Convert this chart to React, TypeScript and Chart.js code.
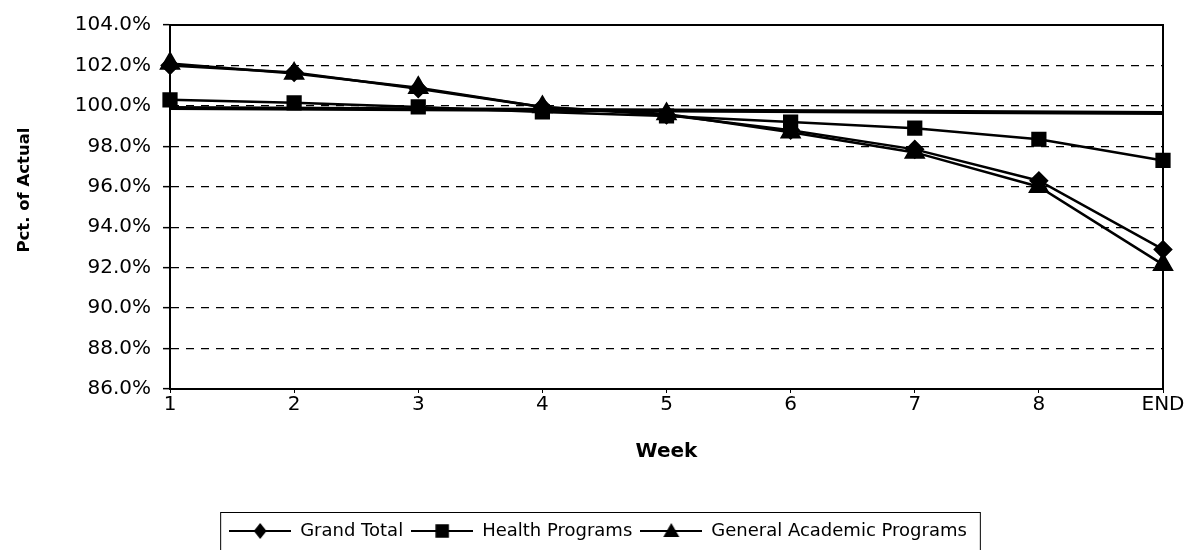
import React, { useEffect, useRef } from "react";
import { Chart, registerables } from "chart.js";

Chart.register(...registerables);

const weeks = ["1", "2", "3", "4", "5", "6", "7", "8", "END"];
const grandTotal = [102.0, 101.65, 100.85, 99.95, 99.55, 98.8, 97.85, 96.3, 92.9];
const healthPrograms = [100.3, 100.15, 99.95, 99.7, 99.5, 99.2, 98.9, 98.35, 97.3];
const generalAcademic = [102.1, 101.6, 100.9, 99.95, 99.6, 98.7, 97.7, 96.0, 92.15];
const baseLine = [99.9, null, null, null, null, null, null, null, 99.65];
const yTicks = [86, 88, 90, 92, 94, 96, 98, 100, 102, 104];
const yTitle = "Pct. of Actual";
const xTitle = "Week";

const FONT = "'DejaVu Sans', 'Liberation Sans', Arial, sans-serif";

function makeLegendIcon(style: string, radius: number): HTMLCanvasElement {
  const c = document.createElement("canvas");
  c.width = 62;
  c.height = 22;
  const ctx = c.getContext("2d")!;
  ctx.strokeStyle = "#000";
  ctx.fillStyle = "#000";
  ctx.lineWidth = 2;
  ctx.beginPath();
  ctx.moveTo(0, 11);
  ctx.lineTo(62, 11);
  ctx.stroke();
  const cx = 31, cy = 11;
  ctx.beginPath();
  if (style === "diamond") {
    ctx.moveTo(cx, cy - radius);
    ctx.lineTo(cx + radius * 0.8, cy);
    ctx.lineTo(cx, cy + radius);
    ctx.lineTo(cx - radius * 0.8, cy);
  } else if (style === "square") {
    const s = radius * 0.75;
    ctx.rect(cx - s, cy - s, 2 * s, 2 * s);
  } else {
    ctx.moveTo(cx, cy - radius);
    ctx.lineTo(cx + radius, cy + radius * 0.75);
    ctx.lineTo(cx - radius, cy + radius * 0.75);
  }
  ctx.closePath();
  ctx.fill();
  return c;
}

const frame = {
  id: "frame",
  beforeDatasetsDraw(chart: any) {
    const { ctx, chartArea } = chart;
    ctx.save();
    ctx.strokeStyle = "#000";
    ctx.lineWidth = 2;
    ctx.beginPath();
    ctx.moveTo(chartArea.left, chartArea.top);
    ctx.lineTo(chartArea.right, chartArea.top);
    ctx.lineTo(chartArea.right, chartArea.bottom);
    ctx.stroke();
    ctx.restore();
  },
  afterDraw(chart: any) {
    const { ctx } = chart;
    ctx.save();
    ctx.translate(25, 190);
    ctx.rotate(-Math.PI / 2);
    ctx.fillStyle = "#000";
    ctx.font = `bold 16.5px ${FONT}`;
    ctx.textAlign = "center";
    ctx.textBaseline = "middle";
    ctx.fillText(yTitle, 0, 0);
    ctx.restore();

    const lg = chart.legend;
    if (!lg || !lg.legendHitBoxes || !lg.legendHitBoxes.length) return;
    const boxes = lg.legendHitBoxes;
    let l = Infinity, r = -Infinity, t = Infinity, b = -Infinity;
    for (const h of boxes) {
      l = Math.min(l, h.left);
      r = Math.max(r, h.left + h.width);
      t = Math.min(t, h.top);
      b = Math.max(b, h.top + h.height);
    }
    ctx.save();
    ctx.strokeStyle = "#000";
    ctx.lineWidth = 1;
    ctx.strokeRect(l - 8.5, t - 9.5, r - l + 22, b - t + 40);
    ctx.restore();
  },
};

export default function App() {
  const ref = useRef<HTMLCanvasElement | null>(null);

  useEffect(() => {
    document.body.style.margin = "0";
    const icons = [
      makeLegendIcon("diamond", 8),
      makeLegendIcon("square", 9),
      makeLegendIcon("triangle", 8),
    ];
    const chart = new Chart(ref.current!, {
      type: "line",
      data: {
        labels: weeks,
        datasets: [
          {
            label: "Grand Total",
            data: grandTotal,
            borderColor: "#000",
            backgroundColor: "#000",
            borderWidth: 2.5,
            pointStyle: "rectRot",
            pointRadius: 8,
            pointBackgroundColor: "#000",
            pointBorderColor: "#000",
          },
          {
            label: "Health Programs",
            data: healthPrograms,
            borderColor: "#000",
            backgroundColor: "#000",
            borderWidth: 2.5,
            pointStyle: "rect",
            pointRadius: 9,
            pointBackgroundColor: "#000",
            pointBorderColor: "#000",
          },
          {
            label: "General Academic Programs",
            data: generalAcademic,
            borderColor: "#000",
            backgroundColor: "#000",
            borderWidth: 2.5,
            pointStyle: "triangle",
            pointRadius: 10,
            pointBackgroundColor: "#000",
            pointBorderColor: "#000",
          },
          {
            label: "base",
            data: baseLine,
            borderColor: "#000",
            borderWidth: 4,
            pointRadius: 0,
            spanGaps: true,
          },
        ],
      },
      options: {
        responsive: false,
        animation: false,
        layout: { padding: { left: 0, right: 0, top: 25, bottom: 0 } },
        plugins: {
          tooltip: { enabled: false },
          legend: {
            position: "bottom",
            labels: {
              color: "#000",
              font: { family: FONT, size: 18 },
              usePointStyle: true,
              pointStyleWidth: 62,
              padding: 8,
              filter: (item: any) => item.datasetIndex < 3,
              generateLabels: (chart: any) => {
                const items = Chart.defaults.plugins.legend.labels.generateLabels(chart);
                return items.map((it: any) => ({
                  ...it,
                  pointStyle: icons[it.datasetIndex] || it.pointStyle,
                }));
              },
            },
          },
        },
        scales: {
          x: {
            type: "category",
            offset: false,
            grid: {
              drawOnChartArea: false,
              drawTicks: true,
              tickLength: 4,
              color: "#000",
            },
            border: { display: true, color: "#000", width: 2 },
            ticks: {
              color: "#000",
              font: { family: FONT, size: 20 },
              padding: 0,
              maxRotation: 0,
              autoSkip: false,
            },
            title: {
              display: true,
              text: xTitle,
              color: "#000",
              font: { family: FONT, size: 20, weight: "bold" },
              padding: { top: 0, bottom: 50 },
            },
            afterFit: (s: any) => {
              s.height = 125;
            },
          },
          y: {
            type: "linear",
            min: 86,
            max: 104,
            afterBuildTicks: (s: any) => {
              s.ticks = yTicks.map((v) => ({ value: v }));
            },
            grid: {
              color: (c: any) =>
                c.tick && (c.tick.value === 86 || c.tick.value === 104) ? "rgba(0,0,0,0)" : "#000",
              lineWidth: 1.3,
              tickColor: "#000",
              tickBorderDash: [],
              tickLength: 7,
              tickWidth: 1.5,
            },
            border: { display: true, color: "#000", width: 2, dash: [8, 7] },
            ticks: {
              color: "#000",
              font: { family: FONT, size: 20 },
              padding: 12,
              callback: (v: any) => Number(v).toFixed(1) + "%",
            },
            title: { display: false },
            afterFit: (s: any) => {
              s.width = 170;
            },
          },
          yR: {
            type: "linear",
            position: "right",
            display: true,
            grid: { display: false, drawTicks: false },
            border: { display: false },
            ticks: { display: false },
            afterFit: (s: any) => {
              s.width = 33;
            },
          },
        },
      },
      plugins: [frame],
    });
    return () => chart.destroy();
  }, []);

  return (
    <div style={{ width: 1196, height: 550, background: "#fff" }}>
      <canvas ref={ref} width={1196} height={550} />
    </div>
  );
}
